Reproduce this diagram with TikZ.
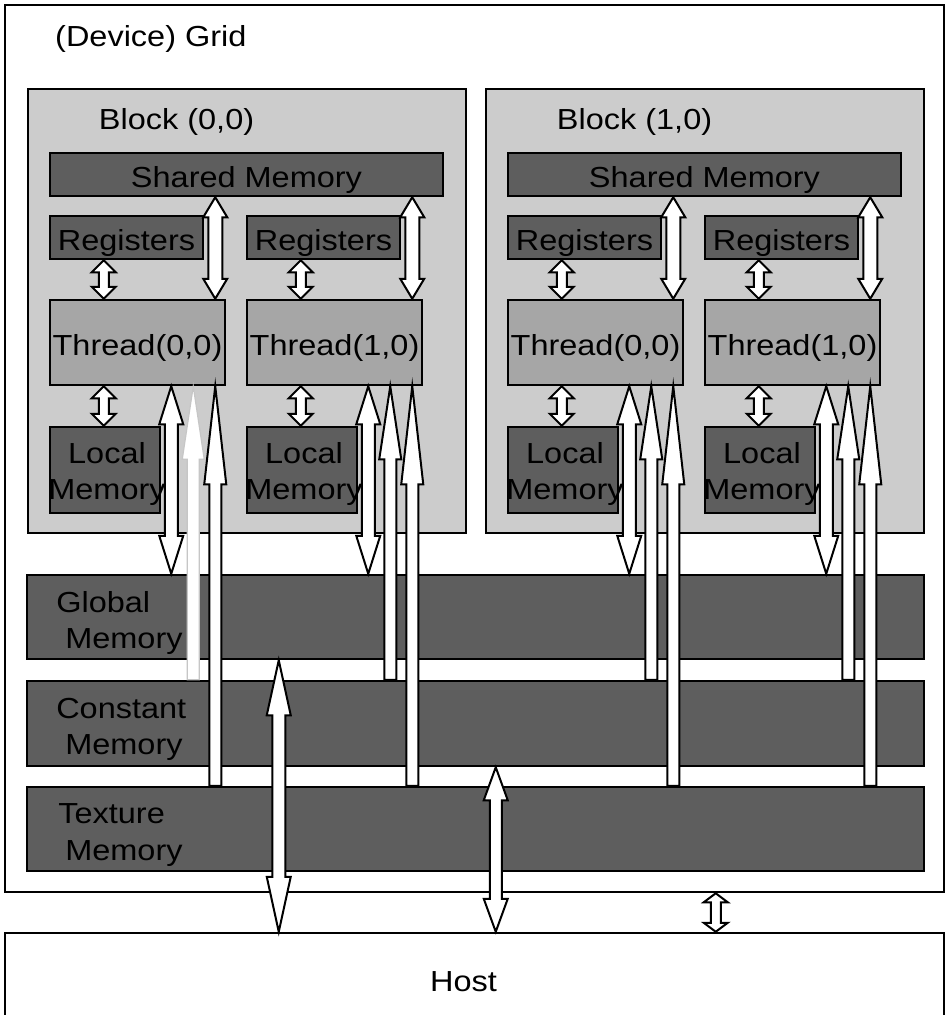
\documentclass[tikz,border=0pt]{standalone}
\usepackage{fontspec}
\setmainfont[FakeStretch=1.12]{Liberation Sans}
\usetikzlibrary{calc, positioning}

\definecolor{blockgray}{gray}{0.80}
\definecolor{threadgray}{gray}{0.65}
\definecolor{memgray}{gray}{0.37}

% hollow block arrows (all of them vertical)
\newcommand{\twoway}[5][6.5pt]{%
  \filldraw[blockarrow] let \p3=(#2), \p1=(#3), \p2=(#4) in
    (\x3,\y1) -- (\x3+12pt,\y1-#5) -- (\x3+#1,\y1-#5) -- (\x3+#1,\y2+#5)
    -- (\x3+12pt,\y2+#5) -- (\x3,\y2) -- (\x3-12pt,\y2+#5) -- (\x3-#1,\y2+#5)
    -- (\x3-#1,\y1-#5) -- (\x3-12pt,\y1-#5) -- cycle;}
\newcommand{\oneway}[5][blockarrow]{%
  \filldraw[#1] let \p3=(#2), \p1=(#3), \p2=(#4) in
    (\x3,\y1) -- (\x3+11pt,\y1-#5) -- (\x3+6pt,\y1-#5) -- (\x3+6pt,\y2)
    -- (\x3-6pt,\y2) -- (\x3-6pt,\y1-#5) -- (\x3-11pt,\y1-#5) -- cycle;}

\begin{document}
\begin{tikzpicture}[x=1pt, y=-1pt,
    font=\fontsize{29}{36.5}\selectfont,
    txt/.style={text height=25pt, text depth=0pt},
    box/.style={draw, line width=2.5pt, inner sep=0pt, txt},
    blockbox/.style={box, fill=blockgray, minimum width=438pt, minimum height=444pt},
    membox/.style={box, fill=memgray},
    thrbox/.style={box, fill=threadgray, minimum width=175pt, minimum height=85pt},
    widebox/.style={membox, minimum width=897pt, minimum height=85pt},
    blockarrow/.style={fill=white, draw=black, line width=2pt},
    faintarrow/.style={fill=white, draw=gray!45, line width=1.2pt}]
  \clip (0,0) rectangle (946,1015);
  \fill[white] (0,0) rectangle (946,1015);

  % device grid
  \node[box, minimum width=939pt, minimum height=887pt] (grid) at (474.5,448.5) {};
  \node[txt, anchor=west, inner sep=0pt] (gridttl) at (55,34) {(Device) Grid};

  % blocks
  \foreach \b in {0,1} {
    \pgfmathsetmacro\bx{458*\b}
    \node[blockbox] (blk\b) at (247+\bx,311) {};
    \node[txt, anchor=west, inner sep=0pt] (blkttl\b) at ($(blk\b.north west)+(72,29)$) {Block (\b,0)};
    \node[membox, minimum width=393pt, minimum height=43pt] (shm\b) at (246.5+\bx,174.5) {Shared Memory};
    \foreach \t in {0,1} {
      \pgfmathsetmacro\tx{\bx+197*\t}
      \node[membox, minimum width=153pt, minimum height=43pt] (reg\b\t) at (126.5+\tx,237.5) {Registers};
      \node[thrbox] (thr\b\t) at (137.5+\tx,342.5) {Thread(\t,0)};
      \node[membox, minimum width=110pt, minimum height=86pt,
            label={[align=center, yshift=-4pt, xshift=2pt]center:Local\\Memory}] (loc\b\t) at (105+\tx,470) {};
    }
  }

  % device memories
  \node[widebox, minimum height=84pt] (glob) at (475.5,617) {};
  \node[widebox] (cons) at (475.5,723.5) {};
  \node[widebox, minimum height=84pt] (tex) at (475.5,829) {};
  \node[anchor=west, align=left] (globttl) at ($(glob.west)+(27,6)$) {Global\\\hspace*{9pt}Memory};
  \node[anchor=west, align=left] (consttl) at ($(cons.west)+(27,6)$) {Constant\\\hspace*{9pt}Memory};
  \node[anchor=west, align=left] (texttl) at ($(tex.west)+(29,6)$) {Texture\\\hspace*{7pt}Memory};

  % host
  \node[box, minimum width=939pt, minimum height=97pt,
        label={[xshift=-11pt]center:Host}] (host) at (474.5,981.5) {};

  % arrows
  \foreach \b in {0,1} {
    \foreach \t in {0,1} {
      \ifnum\b\t=0 \tikzset{constarrow/.style={faintarrow}}\else\tikzset{constarrow/.style={blockarrow}}\fi
      \twoway[5pt]{$(reg\b\t.south west)+(55,0)$}{reg\b\t.south}{thr\b\t.north}{12pt}
      \twoway[5pt]{$(thr\b\t.south west)+(55,0)$}{thr\b\t.south}{loc\b\t.north}{12pt}
      \twoway[7pt]{$(thr\b\t.north east)+(-11,0)$}{shm\b.south}{thr\b\t.north}{20pt}
      \twoway{$(thr\b\t.south east)+(-55,0)$}{thr\b\t.south}{glob.north}{38pt}
      \oneway[constarrow]{$(thr\b\t.south east)+(-33,0)$}{thr\b\t.south}{cons.north}{73pt}
      \oneway{$(thr\b\t.south east)+(-11,0)$}{thr\b\t.south}{tex.north}{98pt}
    }
  }
  \twoway{$(glob.south west)+(253,0)$}{glob.south}{host.north}{55pt}
  \twoway[6pt]{$(cons.south west)+(470,0)$}{cons.south}{host.north}{33pt}
  \twoway[5pt]{$(grid.south west)+(712,0)$}{grid.south}{host.north}{9pt}
\end{tikzpicture}
\end{document}
